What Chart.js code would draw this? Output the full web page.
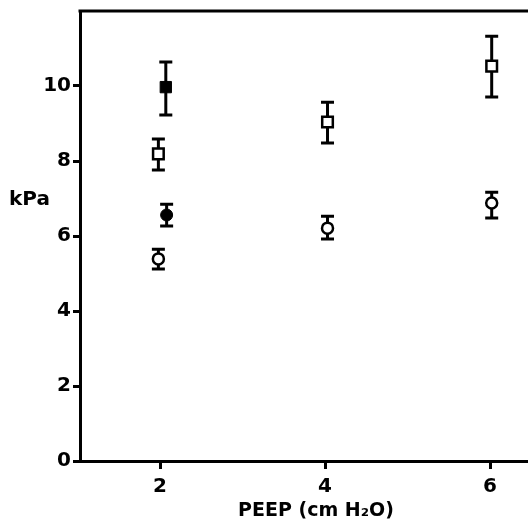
<!DOCTYPE html>
<html>
<head>
<meta charset="utf-8">
<script src="https://cdn.jsdelivr.net/npm/chart.js@4/dist/chart.umd.min.js"></script>
<style>
  body { margin: 0; background: #fff; }
  canvas { display: block; }
</style>
</head>
<body>
<canvas id="graph" width="528" height="527"></canvas>
<script>
// PEEP values (cm H2O) and kPa readings for each group
const openCircleX = [1.98, 4.03, 6.02];
const openCircleY = [5.39, 6.21, 6.88];
const openCircleHi = [5.65, 6.53, 7.17];
const openCircleLo = [5.12, 5.92, 6.48];

const filledCircleX = [2.08];
const filledCircleY = [6.56];
const filledCircleHi = [6.85];
const filledCircleLo = [6.27];

const openSquareX = [1.98, 4.03, 6.02];
const openSquareY = [8.19, 9.04, 10.53];
const openSquareHi = [8.59, 9.57, 11.33];
const openSquareLo = [7.76, 8.48, 9.71];

const filledSquareX = [2.07];
const filledSquareY = [9.97];
const filledSquareHi = [10.64];
const filledSquareLo = [9.23];

const xTicks = [2, 4, 6];
const yTicks = [0, 2, 4, 6, 8, 10];

const FONT = '"DejaVu Sans", "Liberation Sans", sans-serif';

// Build points with error bar ends
function makePoints(xs, ys, his, los) {
    return xs.map((x, i) => ({ x: x, y: ys[i], hi: his[i], lo: los[i] }));
}

// Plugin: error bars (drawn under the markers)
const errorBars = {
    id: 'errorBars',
    beforeDatasetsDraw(chart) {
        const ctx = chart.ctx;
        const xs = chart.scales.x;
        const ys = chart.scales.y;
        ctx.save();
        ctx.strokeStyle = '#000';
        ctx.lineWidth = 3;
        ctx.lineCap = 'butt';
        chart.data.datasets.forEach(ds => {
            ds.data.forEach(p => {
                const px = xs.getPixelForValue(p.x);
                const top = ys.getPixelForValue(p.hi);
                const bot = ys.getPixelForValue(p.lo);
                ctx.beginPath();
                ctx.moveTo(px, top);
                ctx.lineTo(px, bot);
                ctx.moveTo(px - 6.5, top);
                ctx.lineTo(px + 6.5, top);
                ctx.moveTo(px - 6.5, bot);
                ctx.lineTo(px + 6.5, bot);
                ctx.stroke();
            });
        });
        ctx.restore();
    }
};

// Plugin: top frame line, horizontal "kPa" label and the x title
const frame = {
    id: 'frame',
    afterDraw(chart) {
        const ctx = chart.ctx;
        const area = chart.chartArea;
        ctx.save();
        ctx.strokeStyle = '#000';
        ctx.lineWidth = 3;
        ctx.beginPath();
        ctx.moveTo(area.left - 1.5, area.top);
        ctx.lineTo(area.right, area.top);
        ctx.stroke();
        ctx.fillStyle = '#000';
        ctx.font = 'bold 20px ' + FONT;
        ctx.textAlign = 'left';
        ctx.textBaseline = 'middle';
        ctx.fillText('kPa', 9, 200);
        ctx.font = 'bold 19px ' + FONT;
        ctx.textAlign = 'center';
        ctx.fillText('PEEP (cm H₂O)', 316, 511);
        ctx.restore();
    }
};

const ctx = document.getElementById('graph').getContext('2d');

window.chart = new Chart(ctx, {
    type: 'scatter',
    data: {
        datasets: [
            {
                label: 'open circles',
                data: makePoints(openCircleX, openCircleY, openCircleHi, openCircleLo),
                pointStyle: 'circle',
                pointRadius: 5.5,
                backgroundColor: '#fff',
                borderColor: '#000',
                borderWidth: 2.5
            },
            {
                label: 'filled circles',
                data: makePoints(filledCircleX, filledCircleY, filledCircleHi, filledCircleLo),
                pointStyle: 'circle',
                pointRadius: 6,
                backgroundColor: '#000',
                borderColor: '#000',
                borderWidth: 1
            },
            {
                label: 'open squares',
                data: makePoints(openSquareX, openSquareY, openSquareHi, openSquareLo),
                pointStyle: 'rect',
                pointRadius: 7.5,
                backgroundColor: '#fff',
                borderColor: '#000',
                borderWidth: 2.5
            },
            {
                label: 'filled squares',
                data: makePoints(filledSquareX, filledSquareY, filledSquareHi, filledSquareLo),
                pointStyle: 'rect',
                pointRadius: 8,
                backgroundColor: '#000',
                borderColor: '#000',
                borderWidth: 1
            }
        ]
    },
    options: {
        responsive: false,
        animation: false,
        events: [],
        layout: { autoPadding: false, padding: { top: 11, right: 0, left: 0, bottom: 0 } },
        plugins: {
            legend: { display: false },
            tooltip: { enabled: false }
        },
        scales: {
            x: {
                type: 'linear',
                position: 'bottom',
                min: 1.03,
                max: 6.46,
                afterBuildTicks: axis => { axis.ticks = xTicks.map(v => ({ value: v })); },
                afterFit: axis => { axis.height = 66; axis.paddingLeft = 0; axis.paddingRight = 0; },
                border: { display: true, color: '#000', width: 3 },
                grid: { drawOnChartArea: false, drawTicks: true, tickLength: 8, color: '#000', lineWidth: 3 },
                ticks: {
                    color: '#000',
                    padding: 6,
                    maxRotation: 0,
                    font: { family: FONT, size: 20, weight: 'bold' }
                }
            },
            y: {
                type: 'linear',
                position: 'left',
                min: 0,
                max: 12,
                afterBuildTicks: axis => { axis.ticks = yTicks.map(v => ({ value: v })); },
                afterFit: axis => { axis.width = 80; axis.paddingTop = 0; axis.paddingBottom = 0; },
                border: { display: true, color: '#000', width: 3 },
                grid: { drawOnChartArea: false, drawTicks: true, tickLength: 7, color: '#000', lineWidth: 3 },
                ticks: {
                    color: '#000',
                    padding: 2,
                    font: { family: FONT, size: 20, weight: 'bold' }
                }
            }
        }
    },
    plugins: [errorBars, frame]
});
</script>
</body>
</html>
